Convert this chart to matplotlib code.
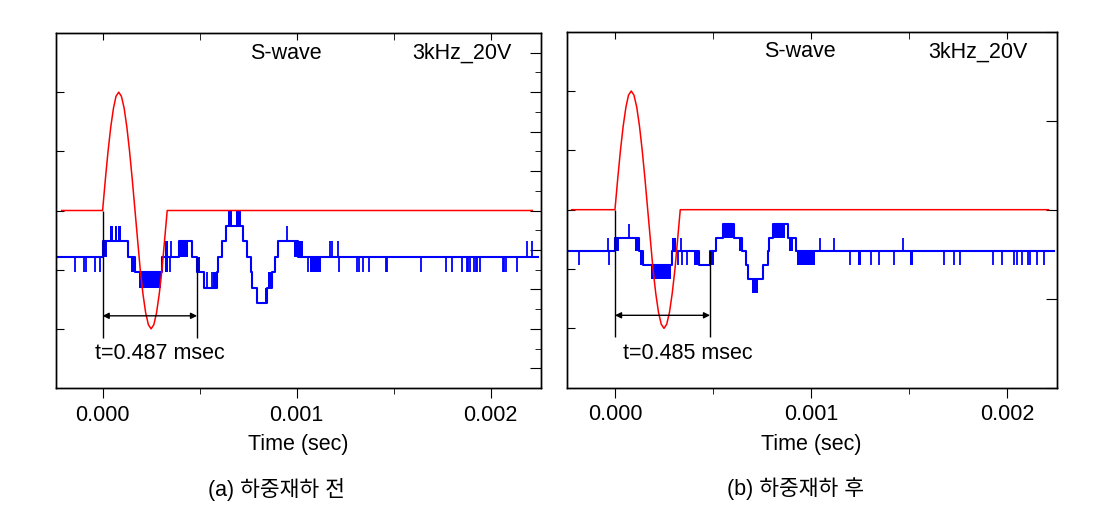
import matplotlib.pyplot as plt
from matplotlib.ticker import MultipleLocator

plt.rcParams['font.family'] = ['Liberation Sans', 'Noto Sans CJK KR', 'DejaVu Sans']

# time in msec (axis labelled in sec), one receiver ADC step = 20V / 256
STEP = 0.078125

# --- transmitted 3 kHz burst, left axis ---
burst_t = [0.000, 0.014, 0.028, 0.042, 0.056, 0.069, 0.083, 0.097, 0.111, 0.125, 0.139, 0.153,
           0.167, 0.181, 0.194, 0.208, 0.222, 0.236, 0.250, 0.264, 0.278, 0.292, 0.306, 0.319, 0.333]
burst_v = [0.0, 0.52, 1.0, 1.41, 1.73, 1.93, 2.0, 1.93, 1.73, 1.41, 1.0, 0.52,
           0.0, -0.52, -1.0, -1.41, -1.73, -1.93, -2.0, -1.93, -1.73, -1.41, -1.0, -0.52, 0.0]
red_span_a = [-0.211, 2.215]
red_span_b = [-0.221, 2.211]

# --- received S-wave, right axis, levels in ADC steps ---
a_step_t = [-0.245, 0.000, 0.132, 0.165, 0.304, 0.395, 0.459, 0.485, 0.524, 0.588, 0.596, 0.613,
            0.634, 0.725, 0.746, 0.763, 0.771, 0.794, 0.845, 0.871, 0.888, 0.905, 1.005, 2.245]
a_step_v = [-3, -2, -3, -4, -3, -2, -3, -4, -5, -4, -3, -2,
            -1, -2, -3, -4, -5, -6, -5, -4, -3, -2, -3, -3]
a_blocks = [(0.000, 0.021, -3, -2), (0.037, 0.056, -2, -1), (0.063, 0.074, -2, -1),
            (0.080, 0.094, -2, -1), (0.146, 0.165, -4, -3), (0.187, 0.300, -5, -4),
            (0.322, 0.335, -4, -2), (0.398, 0.440, -3, -2), (0.485, 0.502, -4, -3),
            (0.570, 0.588, -5, -4), (0.648, 0.668, -1, 0), (0.687, 0.711, -1, 0),
            (0.835, 0.855, -6, -5), (0.855, 0.871, -5, -4), (0.985, 1.034, -3, -2),
            (1.067, 1.125, -4, -3)]
a_spikes = [(-0.143, -4, -3), (-0.094, -4, -3), (-0.087, -4, -3), (-0.040, -4, -3), (-0.014, -4, -3),
            (0.345, -4, -3), (0.355, -3, -2), (0.536, -5, -4), (0.562, -5, -4), (0.952, -2, -1),
            (1.060, -4, -3), (1.172, -3, -2), (1.184, -3, -2), (1.215, -3, -2), (1.218, -4, -3),
            (1.309, -4, -3), (1.321, -4, -3), (1.343, -4, -3), (1.372, -4, -3), (1.459, -4, -3),
            (1.464, -4, -3), (1.641, -4, -3), (1.770, -4, -3), (1.802, -4, -3), (1.854, -4, -3),
            (1.876, -4, -3), (1.882, -4, -3), (1.894, -4, -3), (1.916, -4, -3), (1.923, -4, -3),
            (1.928, -4, -3), (1.945, -4, -3), (2.062, -4, -3), (2.070, -4, -3), (2.079, -4, -3),
            (2.134, -4, -3), (2.189, -3, -2), (2.215, -3, -2)]

b_step_t = [-0.246, 0.000, 0.121, 0.145, 0.291, 0.430, 0.485, 0.515, 0.549, 0.609, 0.648, 0.668,
            0.677, 0.753, 0.779, 0.787, 0.804, 0.881, 0.923, 2.241]
b_step_v = [-3, -2, -3, -4, -3, -4, -3, -2, -1, -2, -3, -4,
            -5, -4, -3, -2, -1, -2, -3, -3]
b_blocks = [(0.000, 0.022, -3, -2), (0.104, 0.121, -3, -2), (0.130, 0.145, -4, -3),
            (0.184, 0.286, -5, -4), (0.291, 0.312, -3, -2), (0.405, 0.430, -4, -3),
            (0.485, 0.507, -4, -3), (0.555, 0.609, -2, -1), (0.634, 0.648, -3, -2),
            (0.699, 0.728, -6, -5), (0.813, 0.869, -2, -1), (0.889, 0.906, -3, -2),
            (0.927, 1.022, -4, -3), (1.238, 1.255, -4, -3), (1.505, 1.522, -4, -3)]
b_spikes = [(-0.185, -4, -3), (-0.037, -3, -2), (-0.029, -4, -3), (0.073, -2, -1),
            (0.320, -4, -3), (0.337, -3, -2), (0.342, -4, -3), (0.366, -4, -3),
            (1.046, -3, -2), (1.119, -3, -2), (1.199, -4, -3), (1.306, -4, -3),
            (1.345, -4, -3), (1.425, -4, -3), (1.468, -3, -2), (1.676, -4, -3),
            (1.731, -4, -3), (1.760, -4, -3), (1.930, -4, -3), (1.973, -4, -3),
            (2.037, -4, -3), (2.049, -4, -3), (2.076, -4, -3), (2.106, -4, -3),
            (2.114, -4, -3), (2.151, -4, -3), (2.190, -4, -3)]

arrival_a = 0.487
arrival_b = 0.485
xtick_pos = [0, 1, 2]
xtick_lab = ['0.000', '0.001', '0.002']
FS = 15.5


def panel(fig, rect, xlim, red_span, st_t, st_v, blocks, spikes, rlim, rmajor, rminor,
          arrival, text_x, label, caption, cap_x):
    ax = fig.add_axes(rect)
    ax2 = ax.twinx()
    ax.set_zorder(ax2.get_zorder() + 1)
    ax.patch.set_visible(False)

    # receiver trace
    ax2.step(st_t, [v * STEP for v in st_v], where='post', color='#0000ff', lw=1.5)
    for t0, t1, lo, hi in blocks:
        ax2.fill_between([t0, t1], lo * STEP, hi * STEP, color='#0000ff', lw=0)
    ax2.vlines([s[0] for s in spikes], [s[1] * STEP for s in spikes],
               [s[2] * STEP for s in spikes], color='#0000ff', lw=1.3)
    ax2.set_ylim(-rlim, rlim)
    ax2.yaxis.set_major_locator(MultipleLocator(rmajor))
    if rminor:
        ax2.yaxis.set_minor_locator(MultipleLocator(rminor))
    ax2.tick_params(axis='y', which='major', direction='in', length=8, labelright=False)
    ax2.tick_params(axis='y', which='minor', direction='in', length=4)
    ax2.xaxis.set_visible(True)
    ax2.tick_params(axis='x', which='both', direction='in', bottom=False, top=True,
                    labelbottom=False, labeltop=False, length=5)

    # transmitted burst
    rt = [red_span[0]] + burst_t + [red_span[1]]
    rv = [0.0] + burst_v + [0.0]
    ax.plot(rt, rv, color='#ff0000', lw=1.1)
    ax.set_ylim(-3, 3)
    ax.set_yticks([-2, -1, 0, 1, 2])
    ax.tick_params(axis='y', direction='in', length=6, labelleft=False, right=False)
    ax.set_xlim(*xlim)
    ax.set_xticks(xtick_pos)
    ax.set_xticklabels(xtick_lab, fontsize=FS)
    ax.xaxis.set_minor_locator(MultipleLocator(0.5))
    ax.tick_params(axis='x', which='major', direction='out', length=7, pad=5, top=False)
    ax.tick_params(axis='x', which='minor', direction='out', length=4, top=False)

    # arrival time marker
    base = st_v[0] * STEP * 3 / rlim
    ax.vlines(0, -2.15, 0, color='black', lw=1)
    ax.vlines(arrival, -2.15, base, color='black', lw=1)
    ax.annotate('', xy=(arrival, -1.78), xytext=(0, -1.78),
                arrowprops=dict(arrowstyle='<|-|>', color='black', lw=1,
                                mutation_scale=9, shrinkA=0, shrinkB=0))
    ax.text(text_x, -2.42, 't=%.3f msec' % arrival, fontsize=FS, ha='left', va='center')
    ax.text(0.945, 2.66, 'S-wave', fontsize=FS, ha='center', va='center')
    ax.text(1.852, 2.66, '3kHz_20V', fontsize=FS, ha='center', va='center')

    for sp in list(ax.spines.values()) + list(ax2.spines.values()):
        sp.set_linewidth(1.0)

    fig.text(rect[0] + rect[2] / 2, 0.131, label, fontsize=FS, ha='center', va='center')
    fig.text(cap_x, 0.043, caption, fontsize=FS, ha='center', va='center')


fig = plt.figure(figsize=(11, 5.11), dpi=100)
panel(fig, [0.0506, 0.2407, 0.4409, 0.6947], (-0.242, 2.258), red_span_a,
      a_step_t, a_step_v, a_blocks, a_spikes, 0.9, 0.2, 0.1,
      arrival_a, -0.040, 'Time (sec)', '(a) 하중재하 전', 0.251)
panel(fig, [0.5152, 0.2413, 0.4455, 0.6967], (-0.246, 2.253), red_span_b,
      b_step_t, b_step_v, b_blocks, b_spikes, 1.0, 0.5, None,
      arrival_b, 0.039, 'Time (sec)', '(b) 하중재하 후', 0.723)

fig.savefig('out.png', dpi=100)
